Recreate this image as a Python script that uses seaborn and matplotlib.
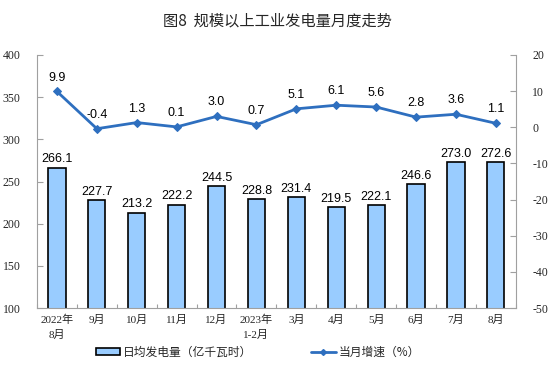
"""Monthly industrial power generation: daily average (bars) and YoY growth (line)."""

import matplotlib
matplotlib.use("Agg")
import matplotlib.pyplot as plt
import numpy as np
import pandas as pd
import seaborn as sns
from matplotlib.lines import Line2D
from matplotlib.patches import Patch

months = ["2022年\n8月", "9月", "10月", "11月", "12月", "2023年\n1-2月",
          "3月", "4月", "5月", "6月", "7月", "8月"]
daily_output = [266.1, 227.7, 213.2, 222.2, 244.5, 228.8,
                231.4, 219.5, 222.1, 246.6, 273.0, 272.6]
growth = [9.9, -0.4, 1.3, 0.1, 3.0, 0.7, 5.1, 6.1, 5.6, 2.8, 3.6, 1.1]

BAR_COLOR = "#99CCFF"
LINE_COLOR = "#2E6FBF"
CJK = ["Noto Sans CJK SC", "DejaVu Sans"]
SERIF = ["Liberation Serif", "Noto Sans CJK SC"]
NUM = ["Liberation Sans", "DejaVu Sans"]


def main() -> None:
    sns.set_theme(style="white")
    plt.rcParams["font.family"] = CJK
    plt.rcParams["axes.unicode_minus"] = False

    df = pd.DataFrame({"month": months, "output": daily_output,
                       "growth": growth, "pos": np.arange(len(months))})

    fig = plt.figure(figsize=(5.54, 3.87), dpi=100)
    ax = fig.add_axes([0.0668, 0.204, 0.8642, 0.654])

    sns.barplot(data=df, x="month", y="output", ax=ax, color=BAR_COLOR,
                width=0.43, edgecolor="black", linewidth=1.2, saturation=1)
    ax.set_ylim(100, 400)
    ax.set_yticks(range(100, 401, 50))
    ax.set_xlim(-0.5, len(months) - 0.5)
    ax.set_xlabel("")
    ax.set_ylabel("")
    for i, v in enumerate(daily_output):
        ax.text(i, v + 3, f"{v:.1f}", ha="center", va="bottom",
                fontsize=9, family=NUM, color="black")

    ax2 = ax.twinx()
    sns.lineplot(data=df, x="pos", y="growth", ax=ax2, color=LINE_COLOR,
                 linewidth=2, marker="D", markersize=4,
                 markeredgecolor=LINE_COLOR)
    ax2.set_ylim(-50, 20)
    ax2.set_yticks(range(-50, 21, 10))
    ax2.set_xlabel("")
    ax2.set_ylabel("")
    for i, v in enumerate(growth):
        ax2.text(i, v + 2.2, f"{v:.1f}", ha="center", va="bottom",
                 fontsize=9, family=NUM, color="black")

    for a in (ax, ax2):
        a.spines["top"].set_visible(False)
        for s in ("left", "right", "bottom"):
            a.spines[s].set_color("#A0A0A0")
            a.spines[s].set_linewidth(0.8)
        a.tick_params(axis="y", direction="in", length=4, width=0.8,
                      color="#A0A0A0", labelsize=8.5, pad=12)
    ax.spines["right"].set_visible(False)
    ax2.spines["left"].set_visible(False)
    ax2.spines["bottom"].set_visible(False)

    # ticks between categories on the bottom axis
    ax.set_xticks(np.arange(len(months)))
    ax.set_xticklabels(months, fontsize=8, family=SERIF, linespacing=1.5)
    ax.tick_params(axis="x", length=0, pad=5)
    ax.set_xticks(np.arange(-0.5, len(months)), minor=True)
    ax.tick_params(axis="x", which="minor", direction="in", length=3,
                   width=0.8, color="#A0A0A0", bottom=True)
    for lab in ax.get_yticklabels() + ax2.get_yticklabels():
        lab.set_family(SERIF)

    fig.text(0.5, 0.945, "图8  规模以上工业发电量月度走势", ha="center",
             va="center", fontsize=11, family=CJK)

    handles = [Patch(facecolor=BAR_COLOR, edgecolor="black", linewidth=1.2),
               Line2D([0], [0], color=LINE_COLOR, linewidth=2, marker="D",
                      markersize=3)]
    fig.legend(handles, ["日均发电量（亿千瓦时）", "当月增速（%）"],
               loc="center", bbox_to_anchor=(0.465, 0.09), ncol=2,
               frameon=False, fontsize=8.5, columnspacing=5, handlelength=2.1,
               handleheight=0.6, handletextpad=0.2)

    fig.savefig("out.png", dpi=100)
    plt.close(fig)


if __name__ == "__main__":
    main()
